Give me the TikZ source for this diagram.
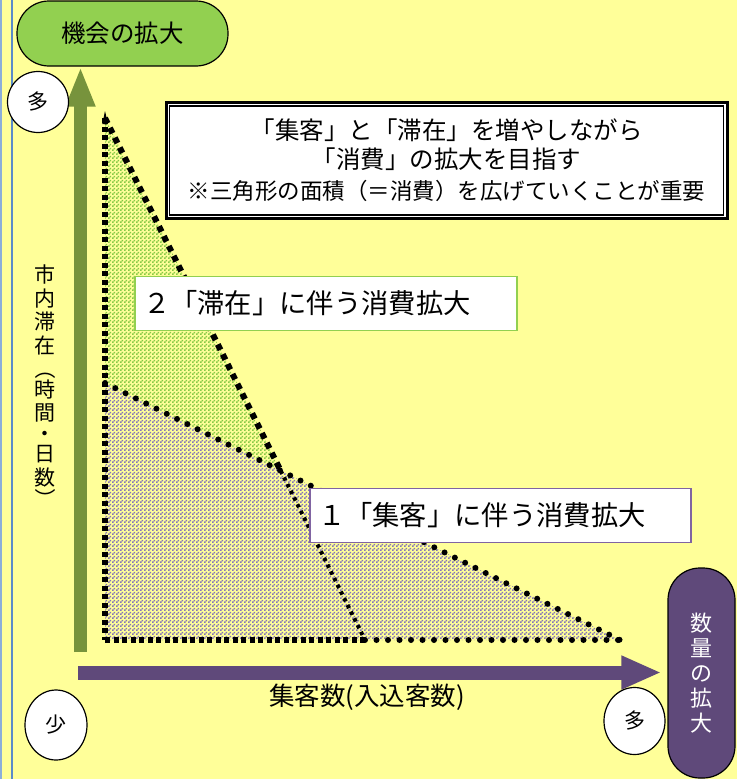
\documentclass[tikz,border=0pt]{standalone}
\usepackage{fontspec}
\setmainfont{Noto Sans CJK JP}
\usetikzlibrary{arrows.meta,patterns,shapes.geometric}
\definecolor{bgY}{HTML}{FFFF99}
\definecolor{gPill}{HTML}{92D050}
\definecolor{gArrow}{HTML}{77933C}
\definecolor{pDark}{HTML}{5F497A}
\definecolor{pLine}{HTML}{8064A2}
\definecolor{pCheck}{HTML}{8474B8}
\definecolor{gCheck}{HTML}{86C846}
\definecolor{bLine}{HTML}{5B8BC9}
\pgfdeclarepatternformonly{checker}{\pgfpointorigin}{\pgfqpoint{4pt}{4pt}}{\pgfqpoint{4pt}{4pt}}{%
  \pgfpathrectangle{\pgfpointorigin}{\pgfqpoint{2pt}{2pt}}%
  \pgfpathrectangle{\pgfqpoint{2pt}{2pt}}{\pgfqpoint{2pt}{2pt}}%
  \pgfusepath{fill}}
\begin{document}
\begin{tikzpicture}[x=1pt,y=-1pt,
  sqdots/.style={line width=5.5pt, dash pattern=on 5pt off 3.5pt},
  hypsq/.style={line width=6pt, dash pattern=on 6pt off 5pt},
  smalldots/.style={line width=4pt, dash pattern=on 3.5pt off 4pt},
  rnddots/.style={line width=6pt, line cap=round, dash pattern=on 0pt off 11.5pt},
  pill/.style={draw=black, line width=1.2pt, rounded corners=32pt, inner sep=0pt},
  circ/.style={ellipse, draw=black, line width=1.2pt, fill=white, inner sep=0pt,
    font=\fontsize{21}{21}\selectfont},
  lab/.style={fill=white, line width=1.5pt, minimum height=54pt, inner xsep=8pt,
    align=left, font=\fontsize{27.3}{30}\selectfont},
  axlab/.style={inner sep=0pt, align=center}]
\useasboundingbox (0,0) rectangle (737,779);
\fill[bgY] (0,0) rectangle (737,779);
\draw[bLine!70, line width=2pt] (1,0) -- (1,779);
\draw[bLine, line width=2.5pt] (12,0) -- (12,779);

% triangle corners
\coordinate (A) at (105,118);
\coordinate (O) at (105,640);
\coordinate (G) at (365,640);
\coordinate (P) at (105,383);
\coordinate (Q) at (620,640);
\coordinate (X) at (intersection of A--G and P--Q);

% fills
\fill[pattern=checker, pattern color=gCheck] (A) -- (O) -- (G) -- cycle;
\fill[bgY] (P) -- (O) -- (Q) -- cycle;
\fill[pattern=checker, pattern color=pCheck] (P) -- (O) -- (Q) -- cycle;

% borders
\draw[sqdots] (A) -- (O);
\draw[sqdots] (O) -- (G);
\draw[hypsq] (A) -- (X);
\draw[smalldots] (X) -- (G);
\draw[rnddots] (P) -- (Q);
\draw[rnddots] (G) -- (Q);
\fill (102.3,124) -- (105,111) -- (108,124) -- cycle;

% axes
\node[pill, fill=gPill, minimum width=211pt, minimum height=65pt,
  font=\fontsize{24.5}{24.5}\selectfont] (opp) at (122.5,33.5) {機会の拡大};
\node[pill, fill=pDark, minimum width=67pt, minimum height=210pt, text=white,
  align=center, font=\fontsize{22}{25}\selectfont] (qty) at (701.5,673) {数\\量\\の\\拡\\大};
\coordinate (gO) at (80.5,652);
\coordinate (pO) at (78,672.5);
\draw[gArrow, line width=13pt, -{Triangle[length=40pt,width=27pt]}] (gO) -- (gO |- opp.south);
\draw[pDark, line width=14pt, -{Triangle[length=40pt,width=31pt]}, shorten >=6pt] (pO) -- (pO -| qty.west);

\node[axlab, font=\fontsize{21}{23.5}\selectfont] (ylab) at (45,387)
  {市\\内\\滞\\在\\\rotatebox[origin=c]{-90}{（}\\[-3pt]時\\間\\[-3pt]・\\[-3pt]日\\数\\[-2pt]\rotatebox[origin=c]{-90}{）}};
\node[axlab, font=\fontsize{25.5}{26}\selectfont] (xlab) at (367,697) {集客数(入込客数)};

\node[circ, minimum width=61pt, minimum height=61pt] (hiY) at (38,102) {多};
\node[circ, minimum width=62pt, minimum height=70pt] (lo) at (56,725) {少};
\node[circ, minimum width=61pt, minimum height=67pt] (hiX) at (634.5,721) {多};

% goal box
\node[draw=black, line width=3pt, fill=white, minimum width=561pt, minimum height=116pt,
  align=center, font=\fontsize{24.5}{29}\selectfont] (goal) at (446.5,160.5)
  {「集客」と「滞在」を増やしながら\\「消費」の拡大を目指す\\[2pt]{\fontsize{22.5}{29}\selectfont ※三角形の面積（＝消費）を広げていくことが重要}};
\draw[line width=1.2pt] ([shift={(5,5)}]goal.north west) rectangle ([shift={(-5,-5)}]goal.south east);

% labels
\node[lab, draw=gPill, text width=366pt] (l2) at (326,303.5) {２「滞在」に伴う消費拡大};
\node[lab, draw=pLine, text width=365pt] (l1) at (500.5,515.5) {１「集客」に伴う消費拡大};
\end{tikzpicture}
\end{document}
